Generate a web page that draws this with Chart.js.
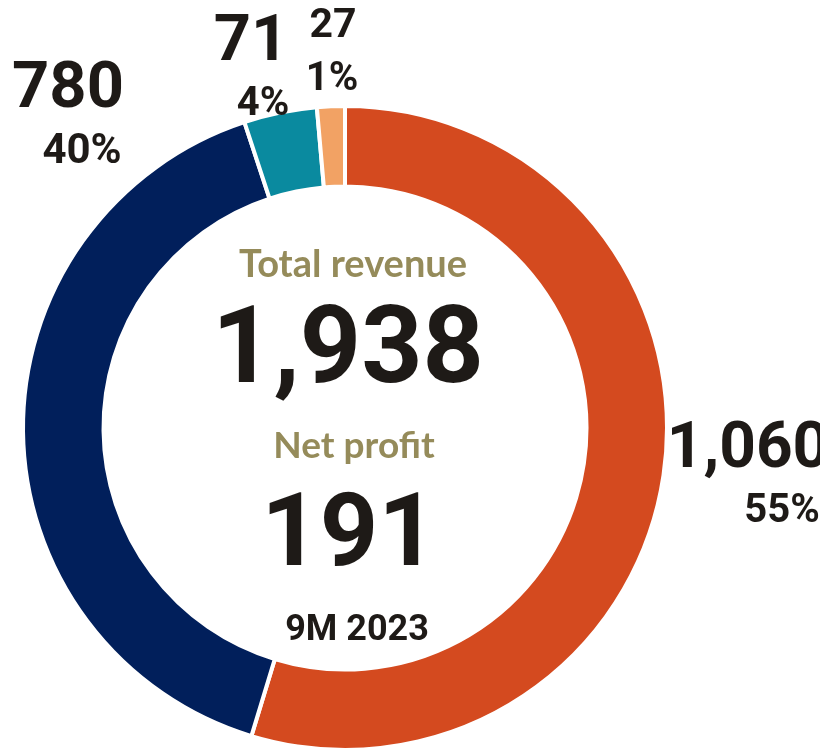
<!DOCTYPE html>
<html>
<head>
<meta charset="utf-8">
<script src="https://cdn.jsdelivr.net/npm/chart.js@4.4.0/dist/chart.umd.min.js"></script>
<style>
    html, body { margin: 0; padding: 0; background: #ffffff; }
    #wrap { width: 820px; height: 750px; overflow: hidden; }
</style>
</head>
<body>
<div id="wrap"><canvas id="donut" width="820" height="750"></canvas></div>
<script>
// data
var segments = ['Segment 1', 'Segment 2', 'Segment 3', 'Segment 4'];
var revenue = [1060, 780, 71, 27];
var segmentColors = ['#D44A1F', '#011F5B', '#0A8A9F', '#F2A264'];
var totalRevenue = 1938;
var netProfit = 191;
var periodLabel = '9M 2023';
var centerTitles = ['Total revenue', 'Net profit'];

// label layout, offsets from the doughnut centre (number line, percent line)
var labelSpots = [
    [[403, 39], [437, 94]],
    [[-277, -321], [-263, -265]],
    [[-94, -368], [-82, -313]],
    [[-12, -391], [-13, -338]]
];
var numberFonts = ['bold 64px Roboto', 'bold 65px Roboto', 'bold 65px Roboto', 'bold 41px Roboto'];
var percentFonts = ['bold 40px Roboto', 'bold 42px Roboto', 'bold 40px Roboto', 'bold 40px Roboto'];

var darkText = '#1E1A17';
var oliveText = '#958B5A';

function fmt(n){
    return n.toLocaleString('en-US');
}

var labelsPlugin = {
    id: 'donutLabels',
    afterDraw: function(chart){
        var ctx = chart.ctx;
        var arcs = chart.getDatasetMeta(0).data;
        var cx = arcs[0].x, cy = arcs[0].y;
        var sum = revenue.reduce(function(a, b){ return a + b; }, 0);
        ctx.save();
        ctx.textAlign = 'center';
        ctx.textBaseline = 'alphabetic';
        ctx.fillStyle = darkText;
        revenue.forEach(function(v, i){
            var spot = labelSpots[i];
            ctx.font = numberFonts[i];
            ctx.fillText(fmt(v), cx + spot[0][0], cy + spot[0][1]);
            ctx.font = percentFonts[i];
            ctx.fillText(Math.round(v / sum * 100) + '%', cx + spot[1][0], cy + spot[1][1]);
        });

        // centre block
        ctx.fillStyle = oliveText;
        ctx.font = 'bold 38px Lato';
        ctx.fillText(centerTitles[0], cx + 8, cy - 151);
        ctx.font = 'bold 37px Lato';
        ctx.fillText(centerTitles[1], cx + 9, cy + 30);
        ctx.fillStyle = darkText;
        ctx.font = 'bold 107px Roboto';
        ctx.fillText(fmt(totalRevenue), cx + 3, cy - 46);
        ctx.font = 'bold 102px Roboto';
        ctx.fillText(fmt(netProfit), cx + 4, cy + 137);
        ctx.font = 'bold 36px Roboto';
        ctx.fillText(periodLabel, cx + 12, cy + 212);
        ctx.restore();
    }
};

new Chart(document.getElementById('donut'), {
    type: 'doughnut',
    data: {
        labels: segments,
        datasets: [{
            data: revenue,
            backgroundColor: segmentColors,
            borderColor: '#ffffff',
            borderWidth: 4,
            radius: 322,
            cutout: '75%'
        }]
    },
    options: {
        responsive: false,
        animation: false,
        layout: { padding: { left: 20, right: 150, top: 106, bottom: 0 } },
        plugins: {
            legend: { display: false },
            tooltip: { enabled: false }
        }
    },
    plugins: [labelsPlugin]
});
</script>
</body>
</html>
